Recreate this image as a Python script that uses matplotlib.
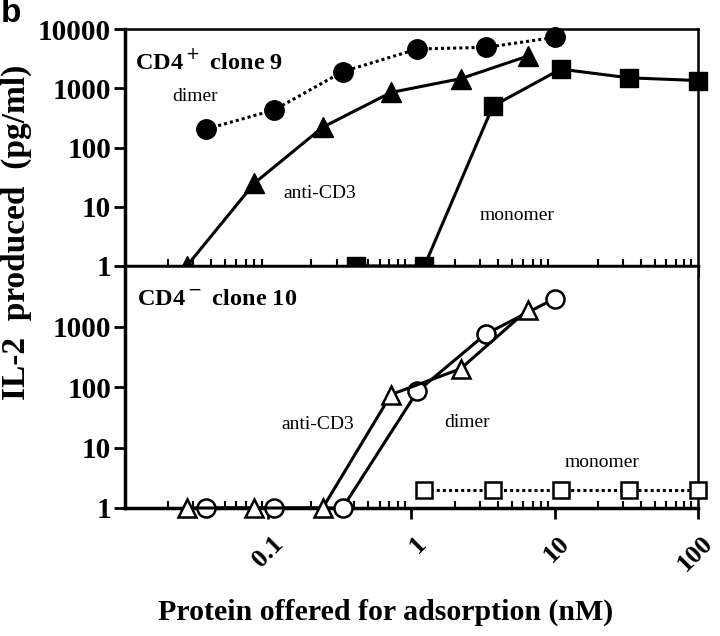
import numpy as np
import matplotlib
matplotlib.use('Agg')
import matplotlib.pyplot as plt
from matplotlib.ticker import FixedLocator, FixedFormatter, LogLocator, NullFormatter
from matplotlib.transforms import ScaledTranslation

plt.rcParams['font.family'] = ['Liberation Serif', 'DejaVu Serif']

# CD4+ clone 9 (top panel)
dimer_x_top = [0.037, 0.11, 0.33, 1.1, 3.3, 10]
dimer_y_top = [205, 430, 1900, 4600, 4900, 7200]
cd3_x_top = [0.027, 0.08, 0.24, 0.72, 2.2, 6.5]
cd3_y_top = [1, 25, 220, 850, 1450, 3500]
mono_x_top = [0.41, 1.23, 3.7, 11, 33, 100]
mono_y_top = [1, 1, 500, 2100, 1500, 1350]

# CD4- clone 10 (bottom panel)
dimer_x_bot = [0.037, 0.11, 0.33, 1.1, 3.3, 10]
dimer_y_bot = [1, 1, 1, 85, 750, 2900]
cd3_x_bot = [0.027, 0.08, 0.24, 0.72, 2.2, 6.5]
cd3_y_bot = [1, 1, 1, 75, 200, 1900]
mono_x_bot = [1.23, 3.7, 11, 33, 100]
mono_y_bot = [2, 2, 2, 2, 2]

x_ticks = [0.1, 1, 10, 100]
x_ticklabels = ['0.1', '1', '10', '100']
y_ticks_top = [1, 10, 100, 1000, 10000]
y_ticks_bot = [1, 10, 100, 1000]

fig = plt.figure(figsize=(7.2, 6.36), dpi=100)
left, width = 125 / 720, (698 - 125) / 720
ax1 = fig.add_axes([left, 1 - 266 / 636, width, (266 - 29) / 636])
ax2 = fig.add_axes([left, 1 - 508 / 636, width, (508 - 266) / 636])


def style_axis(ax, yticks):
    ax.set_xscale('log')
    ax.set_yscale('log')
    ax.set_xlim(0.01, 100)
    ax.set_ylim(1, 10000)
    ax.xaxis.set_major_locator(FixedLocator(x_ticks))
    ax.xaxis.set_minor_locator(LogLocator(base=10, subs=np.arange(2, 10)))
    ax.xaxis.set_minor_formatter(NullFormatter())
    ax.yaxis.set_major_locator(FixedLocator(yticks))
    ax.yaxis.set_major_formatter(FixedFormatter([str(t) for t in yticks]))
    ax.yaxis.set_minor_locator(LogLocator(base=10, subs=np.arange(2, 10)))
    ax.yaxis.set_minor_formatter(NullFormatter())
    ax.tick_params(which='major', direction='out', length=8, width=2,
                   labelsize=21, pad=2)
    ax.tick_params(which='minor', direction='in', length=5, width=1.5)
    for lab in ax.get_yticklabels():
        lab.set_fontweight('bold')
    for side in ['top', 'right']:
        ax.spines[side].set_linewidth(1.8)
    for side in ['left', 'bottom']:
        ax.spines[side].set_linewidth(2.5)


style_axis(ax1, y_ticks_top)
style_axis(ax2, y_ticks_bot)
ax1.set_xticklabels([])
ax2.set_xticklabels(x_ticklabels, rotation=45, ha='right', va='top',
                    rotation_mode='anchor', fontweight='bold', fontsize=19)
ax2.tick_params(axis='x', which='major', pad=14)
shift = ScaledTranslation(0.03, 0.07, fig.dpi_scale_trans)
for lab in ax2.get_xticklabels():
    lab.set_transform(lab.get_transform() + shift)

dot = (0, (1, 1))
kw = dict(color='black', lw=2.2, clip_on=False, zorder=5)

# top panel: filled markers
ax1.plot(dimer_x_top, dimer_y_top, marker='o', ms=14, ls=dot, **kw)
ax1.plot(cd3_x_top, cd3_y_top, marker='^', ms=14, ls='-', **kw)
ax1.plot(mono_x_top, mono_y_top, marker='s', ms=13, ls='-', **kw)

# bottom panel: open markers
okw = dict(kw, markerfacecolor='white', markeredgewidth=1.8)
ax2.plot(dimer_x_bot, dimer_y_bot, marker='o', ms=13, ls='-', **okw)
ax2.plot(cd3_x_bot, cd3_y_bot, marker='^', ms=13, ls='-', **okw)
ax2.plot(mono_x_bot, mono_y_bot, marker='s', ms=12, ls=dot, **okw)

# panel annotations
ax1.text(0.0118, 2870, 'CD4$^+$ clone 9', fontsize=17.5, fontweight='bold',
         va='center', ha='left')
ax1.text(0.0214, 730, 'dimer', fontsize=14, va='center', ha='left')
ax1.text(0.128, 17, 'anti-CD3', fontsize=14, va='center', ha='left')
ax1.text(3.0, 7, 'monomer', fontsize=14, va='center', ha='left')

ax2.text(0.0121, 2700, 'CD4$^-$ clone 10', fontsize=17.5, fontweight='bold',
         va='center', ha='left')
ax2.text(0.123, 24, 'anti-CD3', fontsize=14, va='center', ha='left')
ax2.text(1.7, 26, 'dimer', fontsize=14, va='center', ha='left')
ax2.text(11.7, 5.6, 'monomer', fontsize=14, va='center', ha='left')

fig.text(16 / 720, 1 - 232 / 636, 'IL-2  produced  (pg/ml)', rotation=90,
         fontsize=24, fontweight='bold', ha='center', va='center')
fig.text(386 / 720, 1 - 612 / 636, 'Protein offered for adsorption (nM)',
         fontsize=21.5, fontweight='bold', ha='center', va='center')
fig.text(1 / 720, 1 - 14 / 636, 'b', fontsize=24, fontweight='bold',
         family='Liberation Sans', ha='left', va='center')

fig.savefig('out.png', dpi=100)
